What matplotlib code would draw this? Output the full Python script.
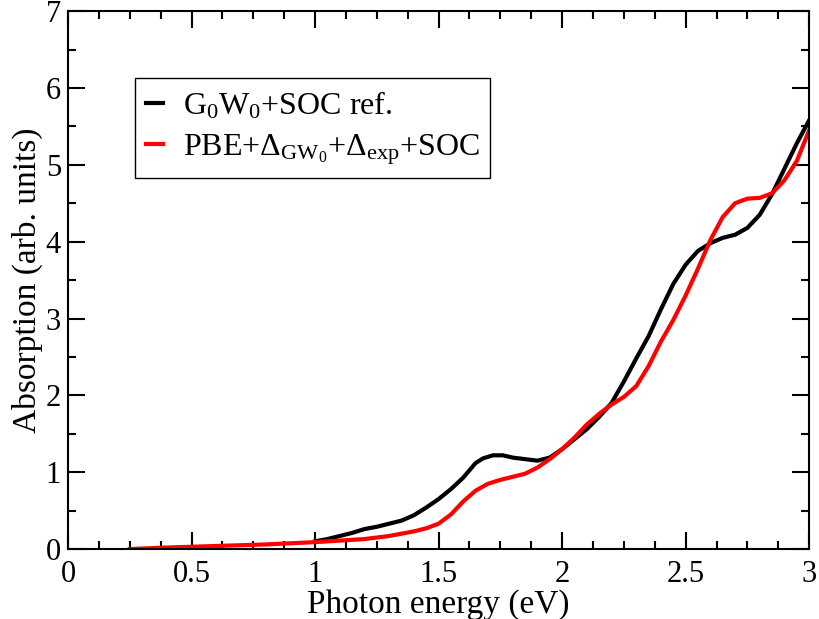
import matplotlib
matplotlib.use('Agg')
import matplotlib.pyplot as plt
from matplotlib.ticker import MultipleLocator

# G0W0+SOC reference (black)
ref_x = [1.00, 1.05, 1.10, 1.15, 1.20, 1.25, 1.30, 1.35, 1.40, 1.45,
         1.50, 1.55, 1.60, 1.65, 1.68, 1.72, 1.76, 1.80, 1.85, 1.90,
         1.95, 2.00, 2.05, 2.10, 2.15, 2.20, 2.25, 2.30, 2.35, 2.40,
         2.45, 2.50, 2.55, 2.60, 2.65, 2.70, 2.75, 2.80, 2.85, 2.90,
         2.95, 3.00]
ref_y = [0.10, 0.13, 0.17, 0.21, 0.26, 0.29, 0.33, 0.37, 0.44, 0.54,
         0.65, 0.78, 0.93, 1.12, 1.18, 1.22, 1.22, 1.19, 1.17, 1.15,
         1.19, 1.30, 1.43, 1.56, 1.72, 1.90, 2.18, 2.48, 2.77, 3.12,
         3.45, 3.70, 3.88, 3.98, 4.05, 4.09, 4.18, 4.35, 4.62, 4.95,
         5.28, 5.58]

# PBE + corrections + SOC (red)
pbe_x = [0.25, 0.40, 0.60, 0.80, 1.00, 1.10, 1.20, 1.30, 1.40, 1.45,
         1.50, 1.55, 1.60, 1.65, 1.70, 1.75, 1.80, 1.85, 1.90, 1.95,
         2.00, 2.05, 2.10, 2.15, 2.20, 2.25, 2.30, 2.35, 2.40, 2.45,
         2.50, 2.55, 2.60, 2.65, 2.70, 2.75, 2.80, 2.85, 2.90, 2.95,
         3.00]
pbe_y = [0.00, 0.02, 0.04, 0.06, 0.09, 0.11, 0.13, 0.17, 0.23, 0.27,
         0.33, 0.45, 0.62, 0.76, 0.85, 0.90, 0.94, 0.98, 1.06, 1.17,
         1.30, 1.45, 1.62, 1.76, 1.88, 1.98, 2.12, 2.38, 2.70, 2.98,
         3.30, 3.65, 4.02, 4.32, 4.50, 4.56, 4.57, 4.63, 4.80, 5.05,
         5.45]

plt.rcParams['font.family'] = ['Liberation Serif', 'DejaVu Serif']
plt.rcParams['mathtext.fontset'] = 'custom'
plt.rcParams['mathtext.rm'] = 'Liberation Serif'
plt.rcParams['mathtext.it'] = 'Liberation Serif:italic'

fig = plt.figure(figsize=(8.19, 6.19), dpi=100)
ax = fig.add_axes([0.083, 0.113, 0.905, 0.869])

ax.plot(ref_x, ref_y, color='black', lw=3, label=r'G$_0$W$_0$+SOC ref.')
ax.plot(pbe_x, pbe_y, color='red', lw=3,
        label=r'PBE+Δ$_{\mathrm{GW}_0}$+Δ$_{\mathrm{exp}}$+SOC')

ax.set_xlim(0, 3)
ax.set_ylim(0, 7)
ax.xaxis.set_major_locator(MultipleLocator(0.5))
ax.xaxis.set_minor_locator(MultipleLocator(0.125))
ax.yaxis.set_major_locator(MultipleLocator(1))
ax.yaxis.set_minor_locator(MultipleLocator(0.5))
ax.xaxis.set_major_formatter(plt.FuncFormatter(lambda v, p: '%g' % v))
ax.tick_params(which='both', direction='in', top=True, right=True, width=1.5,
               labelsize=22)
ax.tick_params(axis='x', which='major', pad=8)
ax.tick_params(axis='y', which='major', pad=5)
ax.tick_params(which='major', length=12)
ax.tick_params(which='minor', length=6)
for s in ax.spines.values():
    s.set_linewidth(1.5)

ax.set_xlabel('Photon energy (eV)', fontsize=24, labelpad=0)
ax.set_ylabel('Absorption (arb. units)', fontsize=24, labelpad=2)

leg = ax.legend(loc='upper left', bbox_to_anchor=(0.090, 0.875), borderaxespad=0,
                fancybox=False, edgecolor='black', framealpha=1, fontsize=23,
                handlelength=0.55, handletextpad=0.6, labelspacing=0.35,
                borderpad=0.35)
leg.get_frame().set_linewidth(1.0)

fig.savefig('out.png', dpi=100)
